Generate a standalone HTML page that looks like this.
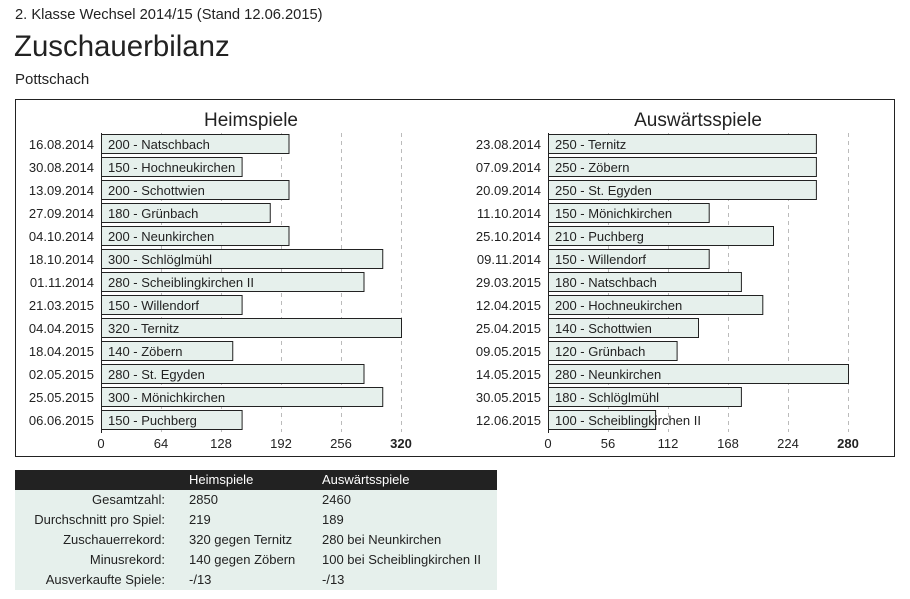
<!DOCTYPE html>
<html><head><meta charset="utf-8"><style>
body{margin:0;width:910px;height:599px;background:#fff;font-family:"Liberation Sans",sans-serif;color:#222;position:relative;overflow:hidden}
.a{position:absolute;white-space:nowrap}
table{position:absolute;left:15px;top:470px;width:482px;border-collapse:collapse;font-size:13px}
td{height:20px;padding:0;line-height:20px;white-space:nowrap}
</style></head><body>
<div class="a" style="left:15px;top:7px;font-size:14.7px">2. Klasse Wechsel 2014/15 (Stand 12.06.2015)</div>
<div class="a" style="left:14px;top:30px;font-size:29.4px">Zuschauerbilanz</div>
<div class="a" style="left:15px;top:71px;font-size:15px">Pottschach</div>
<svg class="a" style="left:0;top:0" width="910" height="599" font-family="Liberation Sans, sans-serif" font-size="13" fill="#222">
<rect x="15.5" y="99.5" width="879" height="357" fill="none" stroke="#222"/>
<text x="251" y="126" font-size="19" text-anchor="middle">Heimspiele</text>
<text x="698" y="126" font-size="19" text-anchor="middle">Auswärtsspiele</text>
<g stroke="#bbb" stroke-dasharray="4,4">
<line x1="161.5" y1="133" x2="161.5" y2="432"/><line x1="221.5" y1="133" x2="221.5" y2="432"/><line x1="281.5" y1="133" x2="281.5" y2="432"/><line x1="341.5" y1="133" x2="341.5" y2="432"/><line x1="401.5" y1="133" x2="401.5" y2="432"/>
<line x1="608.5" y1="133" x2="608.5" y2="432"/><line x1="668.5" y1="133" x2="668.5" y2="432"/><line x1="728.5" y1="133" x2="728.5" y2="432"/><line x1="788.5" y1="133" x2="788.5" y2="432"/><line x1="848.5" y1="133" x2="848.5" y2="432"/>
</g>
<g fill="#e6f0ec" stroke="#222">
<rect x="101.5" y="134.5" width="187.5" height="19"/>
<rect x="101.5" y="157.5" width="140.6" height="19"/>
<rect x="101.5" y="180.5" width="187.5" height="19"/>
<rect x="101.5" y="203.5" width="168.75" height="19"/>
<rect x="101.5" y="226.5" width="187.5" height="19"/>
<rect x="101.5" y="249.5" width="281.25" height="19"/>
<rect x="101.5" y="272.5" width="262.5" height="19"/>
<rect x="101.5" y="295.5" width="140.6" height="19"/>
<rect x="101.5" y="318.5" width="300" height="19"/>
<rect x="101.5" y="341.5" width="131.25" height="19"/>
<rect x="101.5" y="364.5" width="262.5" height="19"/>
<rect x="101.5" y="387.5" width="281.25" height="19"/>
<rect x="101.5" y="410.5" width="140.6" height="19"/>
<rect x="548.5" y="134.5" width="267.9" height="19"/>
<rect x="548.5" y="157.5" width="267.9" height="19"/>
<rect x="548.5" y="180.5" width="267.9" height="19"/>
<rect x="548.5" y="203.5" width="160.7" height="19"/>
<rect x="548.5" y="226.5" width="225" height="19"/>
<rect x="548.5" y="249.5" width="160.7" height="19"/>
<rect x="548.5" y="272.5" width="192.9" height="19"/>
<rect x="548.5" y="295.5" width="214.3" height="19"/>
<rect x="548.5" y="318.5" width="150" height="19"/>
<rect x="548.5" y="341.5" width="128.6" height="19"/>
<rect x="548.5" y="364.5" width="300" height="19"/>
<rect x="548.5" y="387.5" width="192.9" height="19"/>
<rect x="548.5" y="410.5" width="107.1" height="19"/>
</g>
<g stroke="#222"><line x1="101.5" y1="133" x2="101.5" y2="433"/><line x1="548.5" y1="133" x2="548.5" y2="433"/></g>
<g text-anchor="end">
<text x="94" y="149">16.08.2014</text><text x="94" y="172">30.08.2014</text><text x="94" y="195">13.09.2014</text><text x="94" y="218">27.09.2014</text><text x="94" y="241">04.10.2014</text><text x="94" y="264">18.10.2014</text><text x="94" y="287">01.11.2014</text><text x="94" y="310">21.03.2015</text><text x="94" y="333">04.04.2015</text><text x="94" y="356">18.04.2015</text><text x="94" y="379">02.05.2015</text><text x="94" y="402">25.05.2015</text><text x="94" y="425">06.06.2015</text>
<text x="541" y="149">23.08.2014</text><text x="541" y="172">07.09.2014</text><text x="541" y="195">20.09.2014</text><text x="541" y="218">11.10.2014</text><text x="541" y="241">25.10.2014</text><text x="541" y="264">09.11.2014</text><text x="541" y="287">29.03.2015</text><text x="541" y="310">12.04.2015</text><text x="541" y="333">25.04.2015</text><text x="541" y="356">09.05.2015</text><text x="541" y="379">14.05.2015</text><text x="541" y="402">30.05.2015</text><text x="541" y="425">12.06.2015</text>
</g>
<g>
<text x="108" y="149">200 - Natschbach</text><text x="108" y="172">150 - Hochneukirchen</text><text x="108" y="195">200 - Schottwien</text><text x="108" y="218">180 - Grünbach</text><text x="108" y="241">200 - Neunkirchen</text><text x="108" y="264">300 - Schlöglmühl</text><text x="108" y="287">280 - Scheiblingkirchen II</text><text x="108" y="310">150 - Willendorf</text><text x="108" y="333">320 - Ternitz</text><text x="108" y="356">140 - Zöbern</text><text x="108" y="379">280 - St. Egyden</text><text x="108" y="402">300 - Mönichkirchen</text><text x="108" y="425">150 - Puchberg</text>
<text x="555" y="149">250 - Ternitz</text><text x="555" y="172">250 - Zöbern</text><text x="555" y="195">250 - St. Egyden</text><text x="555" y="218">150 - Mönichkirchen</text><text x="555" y="241">210 - Puchberg</text><text x="555" y="264">150 - Willendorf</text><text x="555" y="287">180 - Natschbach</text><text x="555" y="310">200 - Hochneukirchen</text><text x="555" y="333">140 - Schottwien</text><text x="555" y="356">120 - Grünbach</text><text x="555" y="379">280 - Neunkirchen</text><text x="555" y="402">180 - Schlöglmühl</text><text x="555" y="425">100 - Scheiblingkirchen II</text>
</g>
<g text-anchor="middle">
<text x="101" y="448">0</text><text x="161" y="448">64</text><text x="221" y="448">128</text><text x="281" y="448">192</text><text x="341" y="448">256</text><text x="401" y="448" font-weight="bold">320</text>
<text x="548" y="448">0</text><text x="608" y="448">56</text><text x="668" y="448">112</text><text x="728" y="448">168</text><text x="788" y="448">224</text><text x="848" y="448" font-weight="bold">280</text>
</g>
</svg>
<table>
<tr style="background:#222;color:#fff"><td style="width:174px"></td><td style="width:133px">Heimspiele</td><td>Auswärtsspiele</td></tr>
<tr style="background:#e6f0ec"><td style="text-align:right;padding-right:24px">Gesamtzahl:</td><td>2850</td><td>2460</td></tr>
<tr style="background:#e6f0ec"><td style="text-align:right;padding-right:24px">Durchschnitt pro Spiel:</td><td>219</td><td>189</td></tr>
<tr style="background:#e6f0ec"><td style="text-align:right;padding-right:24px">Zuschauerrekord:</td><td>320 gegen Ternitz</td><td>280 bei Neunkirchen</td></tr>
<tr style="background:#e6f0ec"><td style="text-align:right;padding-right:24px">Minusrekord:</td><td>140 gegen Zöbern</td><td>100 bei Scheiblingkirchen II</td></tr>
<tr style="background:#e6f0ec"><td style="text-align:right;padding-right:24px">Ausverkaufte Spiele:</td><td>-/13</td><td>-/13</td></tr>
</table>
</body></html>
